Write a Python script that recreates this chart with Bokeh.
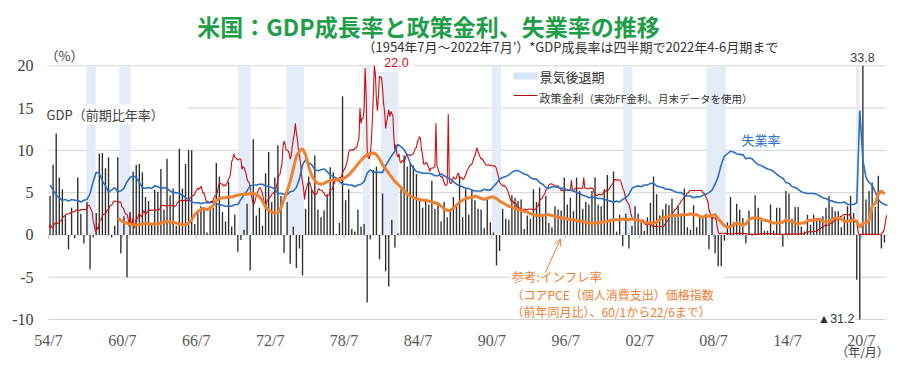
import numpy as np
from bokeh.plotting import figure
from bokeh.models import Label, LabelSet, BoxAnnotation, Arrow, OpenHead, ColumnDataSource
from bokeh.embed import file_html
from bokeh.resources import INLINE

# ---------------- data ----------------
# Real GDP growth, q/q annualized (%), 1954Q3 .. 2022Q2
gdp_start = 1954.5
gdp = [
    4.6, 8.3,
    12.0, 6.8, 5.4, 2.3,
    -1.7, 3.2, -0.4, 6.8,
    2.5, -1.0, 3.9, -4.1,
    -0.3, 2.6, 9.6, 9.7,
    7.9, 9.2, -0.3, 1.1,
    9.2, -2.2, 2.2, -5.0,
    2.7, 7.5, 8.3, 8.4,
    7.4, 4.5, 4.0, 1.3,
    5.3, 5.1, 7.8, 3.0,
    9.0, 4.7, 5.5, 1.1,
    10.2, 5.5, 8.4, 10.0,
    10.0, 1.3, 2.8, 3.4,
    3.3, 0.3, 3.2, 3.2,
    8.5, 6.9, 2.7, 1.6,
    6.3, 1.0, 2.4, -2.0,
    -0.6, 0.6, 3.7, -4.2,
    11.3, 2.3, 3.2, 1.1,
    7.3, 9.8, 3.9, 6.8,
    10.6, 4.6, -2.1, 3.9,
    -3.4, 1.0, -3.9, -1.6,
    -4.8, 3.1, 6.9, 5.4,
    9.4, 3.0, 2.1, 2.9,
    4.8, 8.0, 7.4, 0.1,
    1.4, 16.4, 4.1, 5.4,
    0.7, 0.4, 3.0, 1.0,
    1.3, -8.0, -0.5, 7.7,
    8.1, -2.9, 4.9, -4.3,
    -6.1, 1.8, -1.5, 0.2,
    5.4, 9.4, 8.1, 8.5,
    8.2, 7.2, 4.0, 3.2,
    4.0, 3.6, 6.4, 3.1,
    3.9, 1.6, 3.9, 2.1,
    2.9, 4.5, 3.5, 7.0,
    2.1, 5.4, 2.4, 5.4,
    4.1, 3.1, 3.0, 0.8,
    4.4, 1.5, 0.3, -3.6,
    -1.9, 3.1, 1.9, 1.8,
    4.7, 4.4, 4.0, 4.2,
    0.7, 2.3, 1.9, 5.4,
    3.9, 5.6, 2.3, 4.6,
    1.4, 0.9, 3.4, 3.0,
    2.9, 6.8, 3.6, 4.4,
    2.8, 6.8, 5.2, 3.1,
    3.9, 3.6, 5.2, 6.8,
    3.6, 3.4, 5.4, 7.1,
    1.5, 7.5, 0.4, 2.4,
    -1.3, 2.5, -1.6, 1.1,
    3.4, 2.5, 1.6, 0.5,
    2.1, 3.8, 6.9, 4.8,
    2.3, 3.0, 3.7, 3.5,
    4.3, 2.1, 3.4, 2.3,
    5.5, 0.9, 0.6, 3.5,
    0.9, 2.3, 2.2, 2.5,
    -1.7, 2.3, -2.2, -3.7,
    -3.7, -0.7, 1.5, 4.5,
    1.5, 3.7, 3.0, 2.0,
    -1.0, 2.9, -0.1, 4.7,
    3.2, 1.7, 0.5, 0.5,
    3.6, 0.5, 3.2, 3.2,
    -1.4, 5.2, 4.9, 1.9,
    3.3, 3.3, 1.0, 0.4,
    2.4, 1.2, 2.4, 2.0,
    1.9, 2.2, 3.2, 4.6,
    3.3, 2.8, 2.8, 0.9,
    2.2, 3.4, 4.6, 2.6,
    -5.3, -31.2, 33.8, 4.2,
    5.2, 6.2, 3.3, 7.0,
    -1.6, -0.9,
]

# Effective fed funds rate, month-end (%), 1954/7 .. 2022/7
ff_start = 1954.5
fed_funds = [
    0.80, 1.22, 1.07, 0.85, 0.83, 1.28,
    1.39, 1.29, 1.35, 1.43, 1.43, 1.64, 1.68, 1.96, 2.18, 2.24, 2.35, 2.48,
    2.45, 2.50, 2.50, 2.62, 2.75, 2.71, 2.75, 2.73, 2.95, 2.96, 2.88, 2.94,
    2.84, 3.00, 2.96, 3.00, 3.00, 3.00, 2.99, 3.24, 3.47, 3.50, 3.28, 2.98,
    2.72, 1.67, 1.20, 0.60, 0.20, 0.93, 0.68, 1.53, 1.76, 1.80, 2.27, 2.42,
    2.48, 2.43, 2.80, 2.96, 2.90, 3.39, 3.47, 3.50, 3.76, 3.98, 4.00, 3.99,
    3.99, 3.97, 3.84, 3.92, 3.85, 3.32, 3.23, 2.98, 2.60, 2.47, 2.44, 1.98,
    1.00, 2.54, 1.20, 1.49, 1.98, 0.80, 1.17, 2.00, 1.88, 2.26, 2.61, 2.33,
    2.15, 2.37, 2.85, 2.78, 2.36, 2.68, 2.71, 2.93, 2.90, 2.90, 2.94, 2.93,
    2.92, 3.00, 2.98, 2.90, 3.00, 2.99, 3.02, 3.49, 3.48, 3.50, 3.48, 3.38,
    3.48, 3.48, 3.43, 3.47, 3.50, 3.50, 3.42, 3.50, 3.45, 3.36, 3.52, 3.85,
    3.90, 3.98, 4.04, 4.09, 4.10, 4.04, 4.09, 4.12, 4.01, 4.08, 4.10, 4.32,
    4.42, 4.60, 4.65, 4.67, 4.90, 5.17, 5.30, 5.53, 5.40, 5.53, 5.76, 5.40,
    4.94, 5.00, 4.53, 4.05, 3.94, 3.98, 3.79, 3.90, 3.99, 3.88, 4.13, 4.51,
    4.61, 4.71, 5.05, 5.76, 6.11, 6.07, 6.02, 6.03, 5.78, 5.91, 5.82, 6.02,
    6.30, 6.64, 6.79, 7.41, 8.67, 8.90, 9.60, 9.19, 9.15, 9.00, 8.85, 8.97,
    8.98, 8.98, 7.76, 8.10, 7.95, 7.61, 7.21, 6.61, 6.29, 6.20, 5.60, 4.90,
    4.14, 3.72, 3.71, 4.16, 4.63, 4.91, 5.31, 5.56, 5.55, 5.20, 4.91, 4.14,
    3.50, 3.29, 3.83, 4.17, 4.27, 4.46, 4.55, 4.80, 4.87, 5.04, 5.06, 5.33,
    5.94, 6.58, 7.09, 7.12, 7.84, 8.49, 10.40, 11.10, 10.78, 10.01, 10.03, 9.95,
    9.65, 8.97, 9.35, 10.51, 11.31, 11.93, 13.20, 12.01, 11.34, 10.06, 9.45, 8.53,
    7.13, 6.24, 5.54, 4.20, 5.22, 5.55, 6.10, 6.14, 6.24, 5.82, 5.22, 5.20,
    4.87, 4.77, 4.84, 4.82, 5.29, 5.48, 5.31, 5.29, 5.25, 5.03, 4.95, 4.65,
    4.61, 4.68, 4.69, 4.73, 5.35, 5.39, 5.42, 5.90, 6.14, 6.47, 6.51, 6.56,
    6.70, 6.78, 6.79, 6.89, 7.36, 7.60, 7.81, 8.04, 8.45, 8.96, 9.76, 10.03,
    10.07, 10.06, 10.09, 10.01, 10.24, 10.29, 10.47, 10.94, 11.43, 15.00, 13.18, 13.78,
    13.82, 14.90, 19.70, 16.50, 10.00, 9.10, 9.03, 9.61, 10.87, 13.50, 16.50, 22.00,
    19.00, 16.00, 14.70, 16.50, 18.80, 18.60, 18.60, 17.30, 15.50, 14.60, 12.60, 13.40,
    14.00, 14.80, 14.00, 14.60, 14.30, 14.20, 11.50, 10.00, 10.70, 9.50, 9.20, 9.60,
    8.68, 8.51, 8.77, 8.80, 8.63, 8.98, 9.37, 9.56, 9.45, 9.48, 9.34, 9.47,
    9.56, 9.59, 9.91, 10.29, 10.32, 11.06, 11.23, 11.64, 11.30, 9.99, 9.43, 8.38,
    8.35, 8.50, 8.58, 8.27, 7.97, 7.53, 7.88, 7.90, 7.92, 7.99, 8.05, 13.20,
    8.14, 7.86, 7.48, 6.99, 6.85, 6.92, 6.56, 6.17, 5.89, 5.85, 6.04, 14.30,
    6.43, 6.10, 6.13, 6.37, 6.85, 6.73, 6.58, 6.73, 7.22, 7.29, 6.69, 6.77,
    6.83, 6.58, 6.58, 6.87, 7.09, 7.51, 7.75, 8.01, 8.19, 8.30, 8.35, 8.76,
    9.12, 9.36, 9.85, 10.30, 9.81, 9.53, 9.24, 8.99, 9.02, 8.84, 8.55, 8.45,
    8.23, 8.24, 8.28, 8.26, 8.18, 8.29, 8.15, 8.13, 8.20, 8.11, 7.81, 7.31,
    6.91, 6.25, 6.12, 5.91, 5.78, 5.90, 5.82, 5.66, 5.45, 5.21, 4.81, 4.43,
    4.03, 4.06, 3.98, 3.73, 3.82, 3.76, 3.25, 3.30, 3.22, 3.10, 3.09, 2.92,
    3.02, 3.03, 3.07, 2.96, 3.00, 3.04, 3.06, 3.03, 3.09, 2.99, 3.02, 2.96,
    3.05, 3.25, 3.34, 3.56, 4.01, 4.25, 4.26, 4.47, 4.73, 4.76, 5.29, 5.45,
    5.53, 5.92, 5.98, 6.05, 6.01, 6.00, 5.85, 5.74, 5.80, 5.76, 5.80, 5.60,
    5.56, 5.22, 5.31, 5.22, 5.24, 5.27, 5.40, 5.22, 5.30, 5.24, 5.31, 6.50,
    5.25, 5.19, 5.39, 5.51, 5.50, 5.56, 5.52, 5.54, 5.54, 5.50, 5.52, 6.80,
    5.56, 5.51, 5.49, 5.45, 5.49, 5.56, 5.54, 5.55, 5.51, 5.07, 4.83, 4.68,
    4.63, 4.76, 4.81, 4.74, 4.74, 4.76, 4.99, 5.07, 5.22, 5.20, 5.42, 5.30,
    5.45, 5.73, 5.85, 6.02, 6.27, 6.53, 6.54, 6.50, 6.52, 6.51, 6.51, 6.40,
    5.98, 5.49, 5.31, 4.80, 4.21, 3.97, 3.77, 3.65, 3.07, 2.49, 2.09, 1.82,
    1.73, 1.74, 1.73, 1.75, 1.75, 1.75, 1.73, 1.74, 1.75, 1.75, 1.34, 1.24,
    1.24, 1.26, 1.25, 1.26, 1.26, 1.22, 1.01, 1.03, 1.01, 1.01, 1.00, 0.98,
    1.00, 1.01, 1.00, 1.00, 1.00, 1.03, 1.26, 1.43, 1.61, 1.76, 1.93, 2.16,
    2.28, 2.50, 2.63, 2.79, 3.00, 3.04, 3.26, 3.50, 3.62, 3.78, 4.00, 4.16,
    4.29, 4.49, 4.59, 4.79, 4.94, 4.99, 5.24, 5.25, 5.25, 5.25, 5.25, 5.24,
    5.25, 5.26, 5.26, 5.25, 5.25, 5.25, 5.26, 5.02, 4.94, 4.76, 4.49, 4.24,
    3.94, 2.98, 2.61, 2.28, 1.98, 2.00, 2.01, 2.00, 1.81, 0.97, 0.39, 0.16,
    0.15, 0.22, 0.18, 0.15, 0.18, 0.21, 0.16, 0.16, 0.15, 0.12, 0.12, 0.12,
    0.11, 0.13, 0.16, 0.20, 0.20, 0.18, 0.18, 0.19, 0.19, 0.19, 0.19, 0.18,
    0.17, 0.16, 0.14, 0.10, 0.09, 0.09, 0.07, 0.10, 0.08, 0.07, 0.08, 0.07,
    0.08, 0.10, 0.13, 0.14, 0.16, 0.16, 0.16, 0.13, 0.14, 0.16, 0.16, 0.16,
    0.14, 0.15, 0.14, 0.15, 0.11, 0.09, 0.09, 0.08, 0.08, 0.09, 0.08, 0.09,
    0.07, 0.07, 0.08, 0.09, 0.09, 0.10, 0.09, 0.09, 0.09, 0.09, 0.09, 0.12,
    0.11, 0.11, 0.11, 0.12, 0.12, 0.13, 0.13, 0.14, 0.14, 0.12, 0.12, 0.24,
    0.34, 0.38, 0.36, 0.37, 0.37, 0.38, 0.39, 0.40, 0.40, 0.40, 0.41, 0.54,
    0.65, 0.66, 0.79, 0.90, 0.91, 1.04, 1.15, 1.16, 1.15, 1.15, 1.16, 1.30,
    1.41, 1.42, 1.51, 1.69, 1.70, 1.82, 1.91, 1.91, 1.95, 2.19, 2.20, 2.27,
    2.40, 2.40, 2.41, 2.42, 2.39, 2.38, 2.40, 2.13, 2.04, 1.83, 1.55, 1.55,
    1.55, 1.58, 0.65, 0.05, 0.05, 0.08, 0.09, 0.10, 0.09, 0.09, 0.09, 0.09,
    0.09, 0.08, 0.07, 0.07, 0.06, 0.08, 0.10, 0.09, 0.08, 0.08, 0.08, 0.08,
    0.08, 0.08, 0.33, 0.33, 0.83, 1.58, 2.33,
]

# Unemployment rate, quarterly (%), 1954Q3 .. 2022Q3
unemp_start = 1954.5
unemployment = [
    5.9, 5.3,
    4.7, 4.4, 4.1, 4.2,
    4.0, 4.2, 4.1, 4.1,
    3.9, 4.1, 4.2, 4.9,
    6.3, 7.4, 7.3, 6.4,
    5.8, 5.1, 5.3, 5.6,
    5.1, 5.2, 5.5, 6.3,
    6.8, 7.0, 6.8, 6.2,
    5.6, 5.5, 5.6, 5.5,
    5.8, 5.7, 5.5, 5.6,
    5.5, 5.2, 5.0, 5.0,
    4.9, 4.7, 4.4, 4.2,
    3.9, 3.8, 3.8, 3.7,
    3.8, 3.8, 3.8, 3.9,
    3.7, 3.6, 3.5, 3.4,
    3.4, 3.4, 3.6, 3.6,
    4.2, 4.8, 5.2, 5.8,
    5.9, 5.9, 6.0, 6.0,
    5.8, 5.7, 5.6, 5.4,
    4.9, 4.9, 4.8, 4.8,
    5.1, 5.2, 5.6, 6.6,
    8.3, 8.9, 8.5, 8.3,
    7.7, 7.6, 7.7, 7.8,
    7.5, 7.1, 6.9, 6.7,
    6.3, 6.0, 6.0, 5.9,
    5.9, 5.7, 5.9, 6.0,
    6.3, 7.3, 7.7, 7.4,
    7.4, 7.4, 7.4, 8.2,
    8.8, 9.4, 9.9, 10.7,
    10.4, 10.1, 9.4, 8.5,
    7.9, 7.5, 7.4, 7.3,
    7.3, 7.3, 7.2, 7.0,
    7.0, 7.2, 7.0, 6.8,
    6.6, 6.3, 6.0, 5.8,
    5.7, 5.5, 5.5, 5.3,
    5.2, 5.2, 5.2, 5.4,
    5.3, 5.3, 5.7, 6.1,
    6.6, 6.8, 6.9, 7.1,
    7.4, 7.6, 7.6, 7.4,
    7.2, 7.1, 6.8, 6.6,
    6.6, 6.2, 6.0, 5.6,
    5.5, 5.7, 5.7, 5.6,
    5.5, 5.5, 5.3, 5.3,
    5.2, 5.0, 4.9, 4.7,
    4.6, 4.4, 4.5, 4.4,
    4.3, 4.3, 4.2, 4.1,
    4.0, 3.9, 4.0, 3.9,
    4.2, 4.4, 4.8, 5.5,
    5.7, 5.8, 5.7, 5.9,
    5.9, 6.1, 6.1, 5.8,
    5.7, 5.6, 5.4, 5.4,
    5.3, 5.1, 5.0, 5.0,
    4.7, 4.6, 4.6, 4.4,
    4.5, 4.5, 4.7, 4.8,
    5.0, 5.3, 6.0, 6.9,
    8.3, 9.3, 9.6, 9.9,
    9.8, 9.6, 9.5, 9.5,
    9.0, 9.1, 9.0, 8.6,
    8.3, 8.2, 8.0, 7.8,
    7.7, 7.5, 7.2, 6.9,
    6.7, 6.2, 6.1, 5.7,
    5.6, 5.4, 5.1, 5.0,
    4.9, 4.9, 4.9, 4.8,
    4.6, 4.4, 4.3, 4.1,
    4.0, 3.9, 3.8, 3.8,
    3.9, 3.6, 3.6, 3.6,
    3.8, 14.7, 8.8, 6.8,
    6.2, 5.9, 5.1, 4.2,
    3.8, 3.6, 3.5,
]

# Core PCE price index, y/y (%), quarterly, 1960Q1 .. 2022Q2
pce_start = 1960.0
core_pce = [
    2.0, 1.7, 1.5, 1.4,
    1.3, 1.2, 1.2, 1.2,
    1.3, 1.4, 1.3, 1.3,
    1.3, 1.3, 1.4, 1.5,
    1.6, 1.5, 1.5, 1.4,
    1.3, 1.2, 1.2, 1.4,
    1.8, 2.4, 2.8, 3.0,
    3.1, 3.0, 3.2, 3.5,
    4.1, 4.3, 4.4, 4.4,
    4.5, 4.5, 4.6, 4.7,
    4.8, 4.8, 4.8, 4.9,
    4.9, 4.8, 4.5, 4.0,
    3.3, 2.9, 2.7, 2.6,
    2.6, 3.2, 4.2, 5.2,
    6.3, 7.8, 9.3, 9.9,
    10.2, 9.5, 8.1, 7.0,
    6.4, 6.1, 6.0, 6.1,
    6.3, 6.4, 6.5, 6.5,
    6.5, 6.6, 6.8, 7.1,
    7.5, 7.9, 8.4, 8.8,
    9.2, 9.5, 9.6, 9.7,
    9.5, 9.0, 8.3, 7.8,
    7.3, 6.8, 6.3, 6.0,
    5.6, 5.2, 4.9, 4.6,
    4.4, 4.3, 4.2, 4.1,
    4.1, 4.0, 3.9, 3.8,
    3.7, 3.4, 3.1, 2.9,
    2.9, 3.2, 3.5, 3.9,
    4.1, 4.3, 4.4, 4.4,
    4.6, 4.5, 4.3, 4.2,
    4.3, 4.5, 4.5, 4.3,
    4.0, 3.8, 3.6, 3.4,
    3.3, 3.1, 3.0, 2.9,
    2.8, 2.7, 2.5, 2.4,
    2.3, 2.3, 2.3, 2.4,
    2.4, 2.3, 2.2, 2.1,
    2.0, 2.0, 1.9, 1.8,
    1.8, 1.7, 1.6, 1.6,
    1.5, 1.4, 1.4, 1.4,
    1.4, 1.5, 1.5, 1.6,
    1.7, 1.8, 1.8, 1.8,
    1.9, 1.8, 1.8, 1.9,
    1.8, 1.7, 1.6, 1.5,
    1.4, 1.4, 1.4, 1.5,
    1.8, 2.0, 2.1, 2.2,
    2.3, 2.3, 2.3, 2.4,
    2.4, 2.4, 2.5, 2.4,
    2.4, 2.2, 2.1, 2.3,
    2.2, 2.3, 2.4, 1.9,
    1.5, 1.1, 0.9, 1.0,
    1.2, 1.4, 1.3, 1.1,
    1.3, 1.8, 2.0, 2.0,
    2.0, 1.9, 1.7, 1.7,
    1.5, 1.4, 1.4, 1.4,
    1.5, 1.8, 1.7, 1.6,
    1.4, 1.3, 1.4, 1.4,
    1.7, 1.7, 1.8, 1.8,
    1.9, 1.6, 1.5, 1.6,
    1.8, 2.0, 2.0, 1.9,
    1.6, 1.6, 1.7, 1.8,
    1.6, 0.9, 1.4, 1.4,
    1.7, 3.4, 3.7, 4.8,
    5.2, 4.8,
]

# Recessions (NBER), (year, month) start/end
recession_start = [(1957, 8), (1960, 4), (1969, 12), (1973, 11), (1980, 1),
                   (1981, 7), (1990, 7), (2001, 3), (2007, 12), (2020, 2)]
recession_end = [(1958, 4), (1961, 2), (1970, 11), (1975, 3), (1980, 7),
                 (1982, 11), (1991, 3), (2001, 11), (2009, 6), (2020, 4)]

x_tick_values = [1954.5, 1960.5, 1966.5, 1972.5, 1978.5, 1984.5, 1990.5,
                 1996.5, 2002.5, 2008.5, 2014.5, 2020.5]
x_tick_labels = ["54/7", "60/7", "66/7", "72/7", "78/7", "84/7", "90/7",
                 "96/7", "02/7", "08/7", "14/7", "20/7"]
y_tick_values = [-10, -5, 0, 5, 10, 15, 20]
y_tick_labels = ["-10", "-5", "0", "5", "10", "15", "20"]

# ---------------- layout (page pixel -> data) ----------------
W, H = 900, 370
X_LEFT, Y_TOP, Y_BOT = 1954.5, 20, -10
PX_LEFT, PX_RIGHT = 48, 886          # plot area, page px
PY_TOP, PY_BOT = 65.3, 319.0
PXY = 12.316                          # px per year
PPU = (PY_BOT - PY_TOP) / (Y_TOP - Y_BOT)


def dx(px):
    return X_LEFT + (px - PX_LEFT) / PXY


def dy(py):
    return Y_TOP - (py - PY_TOP) / PPU


X_RIGHT = dx(PX_RIGHT)

JP = "Noto Sans CJK JP"
NUM = "Liberation Sans"

gdp_x = [gdp_start + 0.25 * i + 0.125 for i in range(len(gdp))]
gdp_draw = np.clip(gdp, Y_BOT, Y_TOP)
ff_x = [ff_start + (i + 0.5) / 12 for i in range(len(fed_funds))]
ff_draw = np.minimum(fed_funds, Y_TOP)
un_x = [unemp_start + 0.25 * i + 0.125 for i in range(len(unemployment))]
pce_x = [pce_start + 0.25 * i + 0.125 for i in range(len(core_pce))]
rec_l = [y + (m - 1) / 12 for y, m in recession_start]
rec_r = [y + m / 12 for y, m in recession_end]

p = figure(width=W, height=H, x_range=(dx(0), dx(W)), y_range=(dy(H), dy(0)),
           output_backend="svg", toolbar_location=None,
           x_axis_location=None, y_axis_location=None,
           min_border=0)
p.outline_line_color = None
p.background_fill_color = "white"
p.border_fill_color = "white"
p.grid.visible = False

# horizontal grid lines
p.segment(x0=X_LEFT, x1=X_RIGHT, y0=y_tick_values, y1=y_tick_values,
          line_color="#d4d4d4", line_width=1)

# recession bands
p.quad(left=rec_l, right=rec_r, bottom=0, top=Y_TOP,
       fill_color="#e3ecf7", line_color=None)

# small ticks on zero line
p.segment(x0=x_tick_values, y0=0, x1=x_tick_values, y1=-0.45,
          line_color="#bdbdbd", line_width=1)

# GDP bars
p.vbar(x=gdp_x, top=gdp_draw, bottom=0, width=0.11,
       fill_color="#2e2e2e", line_color=None)

# lines
p.line(ff_x, ff_draw, line_color="#c81010", line_width=1.1)
p.line(un_x, unemployment, line_color="#2a6fc4", line_width=1.6)
p.line(pce_x, core_pce, line_color="#f08232", line_width=3)

# tick labels
p.add_layout(LabelSet(source=ColumnDataSource(dict(x=[dx(33)] * len(y_tick_values),
                                                   y=y_tick_values, t=y_tick_labels)),
                      x="x", y="y", text="t", text_align="right", text_baseline="middle",
                      text_font=NUM, text_font_size="16px", text_color="#404040"))
p.add_layout(LabelSet(source=ColumnDataSource(dict(x=x_tick_values,
                                                   y=[dy(340)] * len(x_tick_values),
                                                   t=x_tick_labels)),
                      x="x", y="y", text="t", text_align="center", text_baseline="middle",
                      text_font=NUM, text_font_size="16px", text_color="#595959"))

# white boxes behind labels
p.add_layout(BoxAnnotation(left=dx(48), right=dx(187), bottom=dy(124), top=dy(104),
                           fill_color="white", fill_alpha=1, line_color=None, line_alpha=0))
p.add_layout(BoxAnnotation(left=dx(510), right=dx(723), bottom=dy(301), top=dy(268),
                           fill_color="white", fill_alpha=1, line_color=None, line_alpha=0))

# legend swatches
p.add_layout(BoxAnnotation(left=dx(513), right=dx(537), bottom=dy(79), top=dy(72),
                           fill_color="#d6e4f4", fill_alpha=1, line_color=None, line_alpha=0))
p.add_layout(BoxAnnotation(left=dx(513), right=dx(537), bottom=dy(95.6), top=dy(94.4),
                           fill_color="#b01010", fill_alpha=1, line_color=None, line_alpha=0))


def lab(px, py, text, size, color, font=JP, align="left", bold=False, bg=None, pad=0):
    kw = {}
    if bg is not None:
        kw = dict(background_fill_color=bg, background_fill_alpha=1.0, padding=pad)
    p.add_layout(Label(x=dx(px), y=dy(py), text=text, text_font=font,
                       text_font_size=size, text_color=color, text_align=align,
                       text_baseline="middle",
                       text_font_style="bold" if bold else "normal", **kw))


lab(428, 25, "米国：GDP成長率と政策金利、失業率の推移", "23px", "#1f9e49", align="center", bold=True)
lab(362, 46, "（1954年7月～2022年7月’）*GDP成長率は四半期で2022年4-6月期まで", "13px", "#333333")
lab(45, 55, "（%）", "13px", "#404040")
lab(46, 114, "GDP（前期比年率）", "13px", "#404040")
lab(396, 62, "22.0", "12.5px", "#cc1010", font=NUM, align="center", bg="white", pad=5)
lab(862, 57, "33.8", "12.5px", "#404040", font=NUM, align="center")
lab(539, 76, "景気後退期", "13px", "#333333")
lab(539, 97, "政策金利", "11px", "#333333")
lab(583, 97.5, "（実効FF金利、月末データを使用）", "10.5px", "#333333")
lab(741, 138.5, "失業率", "13px", "#2a6fc4")
lab(511, 275.5, "参考:インフレ率", "12.5px", "#ee7d31")
lab(511, 293.5, "（コアPCE（個人消費支出）価格指数", "12px", "#ee7d31")
lab(511, 310.5, "（前年同月比）、60/1から22/6まで）", "12px", "#ee7d31")
lab(855, 318.5, "▲31.2", "12.5px", "#333333", font=NUM, align="right", bg="white", pad=1)
lab(862, 351, "（年/月）", "12px", "#404040", align="center")

p.add_layout(Arrow(end=OpenHead(size=7, line_color="#ee7d31", line_width=1),
                   x_start=dx(545), y_start=dy(272), x_end=dx(560), y_end=dy(238.5),
                   line_color="#ee7d31", line_width=1))

open("out.html", "w").write(file_html(p, INLINE))
